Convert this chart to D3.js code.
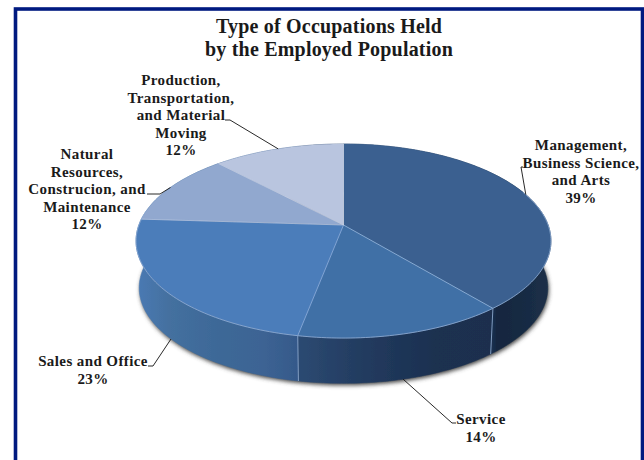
<!DOCTYPE html>
<html><head><meta charset="utf-8">
<script src="https://d3js.org/d3.v7.min.js"></script>
<style>html,body{margin:0;padding:0;background:#fff;overflow:hidden}svg{display:block}
text{font-family:"Liberation Serif",serif;font-weight:700;fill:#1a1a1a;text-anchor:middle}</style>
</head><body><div id="c"></div>
<script>
const categories = ["Management, Business Science, and Arts","Service","Sales and Office","Natural Resources, Construcion, and Maintenance","Production, Transportation, and Material Moving"];
const shares = [39,14,23,12,12];
const labelLines = [
  ["Management,","Business Science,","and Arts","39%"],
  ["Service","14%"],
  ["Sales and Office","23%"],
  ["Natural","Resources,","Construcion, and","Maintenance","12%"],
  ["Production,","Transportation,","and Material","Moving","12%"]
];
const titleLines = ["Type of Occupations Held","by the Employed Population"];
const topColors = ["#3a6190","#3f6fa6","#4c7dba","#91a8cf","#b9c5df"];

const W=644,H=460;
const cx=343.5,cy=225,Rx=204.6,Ry=94.4,persp=0.165,depth=47,baseScale=0.985;
const sx=d3.scaleLinear().domain([-1,1]).range([cx-Rx,cx+Rx]);
const sy=d3.scaleLinear().domain([-1,1]).range([cy-Ry,cy+Ry]);
function proj(a,base){
  const X=Math.sin(a),Y=-Math.cos(a),w=1-persp*Y,s=base?baseScale:1;
  const px=sx(X/w),py=sy(Y/w);
  return [cx+(px-cx)*s, cy+(py-cy)*s+(base?depth:0)];
}
function arcPts(a0,a1,base){
  const n=Math.max(2,Math.ceil((a1-a0)/0.02));
  return d3.range(n+1).map(i=>proj(a0+(a1-a0)*i/n,base));
}
const line=d3.line();
const slices=d3.pie().sort(null).value(d=>d)(shares);

const svg=d3.select("#c").append("svg").attr("width",W).attr("height",H);
const defs=svg.append("defs");
defs.append("filter").attr("id","blur").attr("x","-10%").attr("y","-10%").attr("width","120%").attr("height","120%")
  .append("feGaussianBlur").attr("stdDeviation",2);
defs.append("filter").attr("id","soft").attr("x","-5%").attr("y","-5%").attr("width","110%").attr("height","110%")
  .append("feGaussianBlur").attr("stdDeviation",0.45);
const wallGrad=defs.append("linearGradient").attr("id","wall").attr("gradientUnits","userSpaceOnUse")
  .attr("x1",136).attr("x2",551).attr("y1",0).attr("y2",0);
[[0,"#4a7ab4"],[0.08,"#44709f"],[0.2,"#3d6897"],[0.3,"#3d6494"],[0.39,"#35598a"],[0.39,"#2c4a72"],[0.55,"#223b5f"],[0.72,"#1b3050"],[0.86,"#1a2f4e"],[0.87,"#14263f"],[1,"#1c3048"]]
  .forEach(s=>wallGrad.append("stop").attr("offset",s[0]).attr("stop-color",s[1]));

svg.append("rect").attr("x",15.5).attr("y",9).attr("width",627).attr("height",470)
  .attr("fill","#fff").attr("stroke","#001a80").attr("stroke-width",3.6);

// soft shadow under the body
svg.append("path").attr("d",line(arcPts(0,2*Math.PI,true))+"Z")
  .attr("transform","translate(1,2)").attr("fill","#444").attr("filter","url(#blur)");

const pieG=svg.append("g").attr("filter","url(#soft)");
// side walls
slices.forEach(s=>{
  const t=arcPts(s.startAngle,s.endAngle,false),b=arcPts(s.startAngle,s.endAngle,true).reverse();
  pieG.append("path").attr("d",line(t.concat(b))+"Z").attr("fill","url(#wall)").attr("stroke","url(#wall)").attr("stroke-width",0.5);
});
// wall seams on the visible front
slices.forEach(s=>{
  const a=s.endAngle;
  if(Math.cos(a)<-0.3) pieG.append("path").attr("d",line([proj(a,false),proj(a,true)]))
    .attr("fill","none").attr("stroke","#8aa6cc").attr("stroke-opacity",0.9).attr("stroke-width",1);
});
// top faces
slices.forEach((s,i)=>{
  pieG.append("path").attr("d",line([[cx,cy]].concat(arcPts(s.startAngle,s.endAngle,false)))+"Z")
    .attr("fill",topColors[i]).attr("stroke",topColors[i]).attr("stroke-width",0.4);
});
// light seams on the top face
const seamColor=["#8fb0d8","#86a8d8","#c4cfe6","#c8d1e5","#d6dcea"];
const seamOpacity=[0.9,0.9,0.55,0.6,0.6];
slices.forEach((s,i)=>{
  pieG.append("path").attr("d",line([[cx,cy],proj(s.endAngle,false)]))
    .attr("fill","none").attr("stroke",seamColor[i]).attr("stroke-opacity",seamOpacity[i]).attr("stroke-width",1);
});
// rim highlight
pieG.append("path").attr("d",line(arcPts(Math.PI*0.38,Math.PI*1.55,false)))
  .attr("fill","none").attr("stroke","#8fabd2").attr("stroke-width",1).attr("stroke-opacity",0.85);

// title
titleLines.forEach((t,i)=>svg.append("text").attr("x",329).attr("y",[33,56][i]).attr("font-size",20).attr("letter-spacing",0.2).text(t));

// labels: centre x and first baseline, then elbow point and rim side of each leader
const labelLayout=[
  {x:581,y:150,knee:[521,167],tail:[523,167],base:false,lean:0},
  {x:481,y:424,knee:[452,423],tail:[456,423],base:true,lean:0},
  {x:93,y:366,knee:[153,366],tail:[148,366],base:true,lean:-0.04},
  {x:87,y:159,knee:[160,194],tail:[147,194],base:false,lean:0},
  {x:181,y:85,knee:[230,120],tail:[225,120],base:false,lean:0}
];
slices.forEach((s,i)=>{
  const L=labelLayout[i],mid=(s.startAngle+s.endAngle)/2+L.lean;
  const g=svg.append("g");
  labelLines[i].forEach((t,j)=>g.append("text").attr("x",L.x).attr("y",L.y+j*17.6).attr("font-size",15).attr("letter-spacing",0.4).text(t));
  svg.append("path").attr("d",line([L.tail,L.knee,proj(mid,L.base)]))
    .attr("fill","none").attr("stroke","#111").attr("stroke-width",0.9);
});
</script></body></html>
